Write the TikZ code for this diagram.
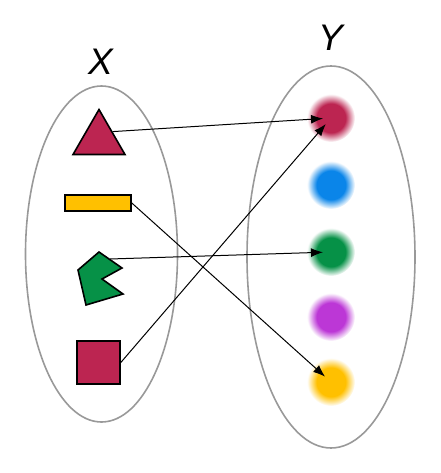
\documentclass[tikz,border=0pt]{standalone}
\usepackage{fontspec}
\setmainfont{Liberation Sans}
\usetikzlibrary{shapes.geometric,arrows.meta}

\definecolor{crimson}{HTML}{BC2551}
\definecolor{amber}{HTML}{FFC000}
\definecolor{leaf}{HTML}{069147}
\definecolor{sky}{HTML}{0A85E9}
\definecolor{violet}{HTML}{BC37D6}
\definecolor{setgray}{HTML}{999999}
\pgfdeclareradialshading[dotcolor]{blurdot}{\pgfpoint{0bp}{0bp}}{color(0bp)=(dotcolor); color(15bp)=(dotcolor); color(25bp)=(white); color(50bp)=(white)}

\begin{document}
\begin{tikzpicture}[x=1pt, y=-1pt,
  set/.style={draw=setgray, line width=1.6pt},
  item/.style={draw=black, line width=1.6pt, inner sep=0pt},
  dot/.style={circle, inner sep=0pt, minimum size=48pt, /utils/exec={\colorlet{dotcolor}{#1}}, shade, shading=blurdot},
  map/.style={-{Latex[length=12pt,width=9pt]}, line width=1pt, shorten >=8pt}]
\useasboundingbox (0,0) rectangle (440,473);

% the two sets
\draw[set] (101.5,254) ellipse (76 and 168);
\draw[set] (331,257) ellipse (84 and 191);
\node[font=\itshape\fontsize{37}{40}\selectfont](X) at (101,62) {X};
\node[font=\itshape\fontsize{37}{40}\selectfont](Y) at (331,38) {Y};

% shapes in X
\node[item, fill=crimson, regular polygon, regular polygon sides=3, minimum size=60pt](tri) at (99,139.5) {};
\node[item, fill=amber, minimum width=66pt, minimum height=16pt](bar) at (98,203) {};
\draw[item, fill=leaf] (99,252) -- (122,268) -- (102,279) -- (123,294) -- (86,305) -- (78,270) -- cycle;
\coordinate (pent) at (110,259);
\node[item, fill=crimson, minimum size=43pt](sq) at (98.5,362.5) {};

% colours in Y
\node[dot=crimson](rdot) at (331,118) {};
\node[dot=sky](bdot) at (331,185) {};
\node[dot=leaf](gdot) at (331,252) {};
\node[dot=violet](pdot) at (331,317) {};
\node[dot=amber](ydot) at (331,382) {};

\draw[map] (tri.side 3) -- (rdot.center);
\draw[map] (bar.east) -- (ydot.center);
\draw[map] (pent) -- (gdot.center);
\draw[map] (sq.east) -- (rdot.center);
\end{tikzpicture}
\end{document}
